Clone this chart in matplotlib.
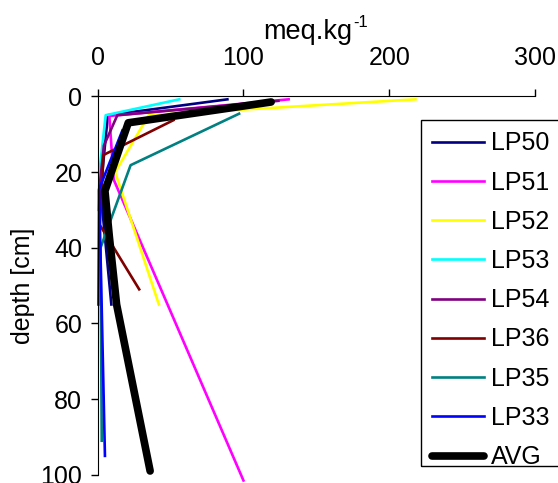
import matplotlib.pyplot as plt
from matplotlib.patches import Rectangle

plt.rcParams["font.family"] = ["Liberation Sans", "DejaVu Sans"]
plt.rcParams["font.size"] = 18

# profiles: concentration [meq/kg] vs sampling depth [cm]
lp50_x = [89, 7, 2, 9.4]
lp50_d = [0.8, 5, 25, 55]
lp51_x = [131, 8, 11, 100]
lp51_d = [0.8, 5.2, 22, 101.5]
lp52_x = [218, 35, 12, 42]
lp52_d = [0.8, 5, 20, 55]
lp53_x = [56, 5.5, 1.5, 0.5]
lp53_d = [0.8, 5, 19, 30]
lp54_x = [124, 13.5, 4.3, 1, 0.5]
lp54_d = [1.2, 5, 13, 25, 55]
lp36_x = [52, 4, 1.5, 28.5]
lp36_d = [6.3, 15.5, 34, 51]
lp35_x = [97, 22.6, 2, 2.8]
lp35_d = [4.6, 18.2, 40, 91]
lp33_x = [17, 1, 5]
lp33_d = [9, 24.5, 95]
avg_x = [119, 21, 5, 8, 13, 36]
avg_d = [1.5, 7, 25, 37, 55, 99]

series = [
    ("LP50", lp50_x, lp50_d, "#000080"),
    ("LP51", lp51_x, lp51_d, "#FF00FF"),
    ("LP52", lp52_x, lp52_d, "#FFFF00"),
    ("LP53", lp53_x, lp53_d, "#00FFFF"),
    ("LP54", lp54_x, lp54_d, "#800080"),
    ("LP36", lp36_x, lp36_d, "#800000"),
    ("LP35", lp35_x, lp35_d, "#008080"),
    ("LP33", lp33_x, lp33_d, "#0000FF"),
]

W, H = 558, 483
fig = plt.figure(figsize=(W / 100, H / 100), dpi=100)
ax = fig.add_axes([0.175, 0.017, 0.7838, 0.7836])

for name, xs, ds, col in series:
    ax.plot(xs, ds, color=col, lw=1.9, label=name, clip_on=False)
ax.plot(avg_x, avg_d, color="black", lw=5.5, solid_capstyle="round",
        solid_joinstyle="round", label="AVG", clip_on=False)

ax.set_xlim(0, 300)
ax.set_ylim(100, 0)
ax.set_xticks([0, 100, 200, 300])
ax.set_yticks([0, 20, 40, 60, 80, 100])
ax.xaxis.tick_top()
ax.tick_params(axis="x", direction="out", length=5, width=1, pad=14)
ax.tick_params(axis="y", direction="out", length=5, width=1, pad=6)
ax.spines["bottom"].set_visible(False)
ax.spines["right"].set_visible(False)
ax.set_ylabel("depth [cm]", labelpad=4)

# unit label on top, with a plain hyphen in the exponent
fig.text(352 / W, 1 - 39 / H, "meq.kg", ha="right", va="baseline",
         fontsize=19.5)
fig.text(353 / W, 1 - 27 / H, "-1", ha="left", va="baseline", fontsize=12)

fig.legend(loc="upper left", bbox_to_anchor=(420.7 / W, 1 - 120 / H),
           frameon=False, handlelength=2.1, handletextpad=0.25,
           labelspacing=0.61, borderpad=0.45, borderaxespad=0)

# legend box: more room above the first entry than below the last
fig.patches.append(Rectangle((420.7 / W, 1 - 466 / H), 140 / W, 346 / H,
                             transform=fig.transFigure, fill=False,
                             edgecolor="black", lw=1))

fig.savefig("out.png", dpi=100)
